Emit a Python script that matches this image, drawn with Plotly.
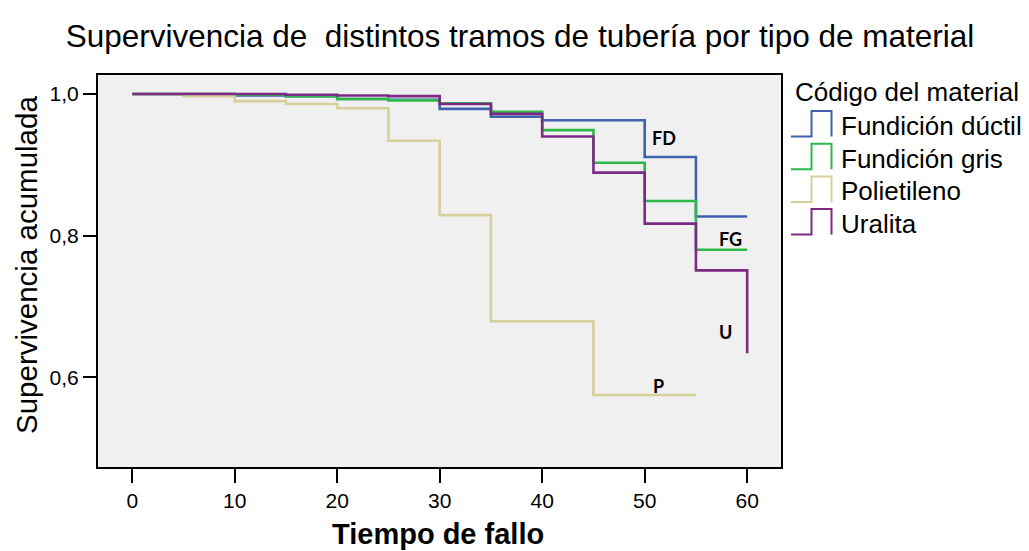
import plotly.graph_objects as go

# Tiempo de fallo (años) y supervivencia acumulada por material
tiempo = [0, 5, 10, 15, 20, 25, 30, 35, 40, 45, 50, 55, 60]
fundicion_ductil = [1.0, 1.0, 0.998, 0.997, 0.993, 0.992, 0.979, 0.968, 0.963, 0.963, 0.911, 0.827, 0.827]
fundicion_gris = [1.0, 1.0, 0.999, 0.997, 0.993, 0.991, 0.987, 0.975, 0.949, 0.903, 0.849, 0.780, 0.780]
tiempo_pe = [0, 5, 10, 15, 20, 25, 30, 35, 40, 45, 50, 55]
polietileno = [1.0, 0.997, 0.990, 0.986, 0.980, 0.934, 0.829, 0.679, 0.679, 0.575, 0.575, 0.575]
uralita = [1.0, 1.0, 1.0, 0.999, 0.998, 0.997, 0.986, 0.972, 0.940, 0.889, 0.817, 0.751, 0.634]

materiales = ["Fundición dúctil", "Fundición gris", "Polietileno", "Uralita"]
colores = ["#4060B0", "#2DB84A", "#D6D09A", "#7D2A85"]

# Etiquetas de final de curva: (texto, tiempo, supervivencia)
etiquetas = [("FD", 51.9, 0.938), ("FG", 58.4, 0.795), ("U", 57.9, 0.664), ("P", 51.3, 0.588)]

x_ticks = [0, 10, 20, 30, 40, 50, 60]
y_ticks = [0.6, 0.8, 1.0]
y_tick_text = ["0,6", "0,8", "1,0"]

W, H = 1029, 551
L, R, T, B = 98, 781, 75, 467  # plot area in pixels
FONT = "Liberation Sans, Arial"

fig = go.Figure()
series = [(tiempo, fundicion_ductil), (tiempo, fundicion_gris), (tiempo_pe, polietileno), (tiempo, uralita)]
for (xs, ys), name, col in zip(series, materiales, colores):
    fig.add_trace(go.Scatter(x=xs, y=ys, mode="lines", name=name,
                             line=dict(color=col, width=2.6, shape="hv"),
                             showlegend=False))

for txt, xv, yv in etiquetas:
    fig.add_annotation(x=xv, y=yv, text=f"<b>{txt}</b>", showarrow=False,
                       font=dict(family="Lato", size=18, color="black"))


def px(xp):
    return (xp - L) / (R - L)


def py(yp):
    return (B - yp) / (B - T)


# Legend drawn by hand with step-shaped symbols
fig.add_annotation(xref="paper", yref="paper", x=px(793), y=py(92), xanchor="left", yanchor="middle",
                   text="Código del material", showarrow=False,
                   font=dict(family=FONT, size=26, color="black"))
for i, (name, col) in enumerate(zip(materiales, colores)):
    cy = 126 + i * 32.7
    top, bot = cy - 15, cy + 10.5
    path = (f"M {px(791)},{py(bot)} L {px(811.5)},{py(bot)} L {px(811.5)},{py(top)} "
            f"L {px(831.5)},{py(top)} L {px(831.5)},{py(bot)}")
    fig.add_shape(type="path", path=path, xref="paper", yref="paper",
                  line=dict(color=col, width=2))
    fig.add_annotation(xref="paper", yref="paper", x=px(839), y=py(cy), xanchor="left", yanchor="middle",
                       text=name, showarrow=False,
                       font=dict(family=FONT, size=26, color="black"))

# Axis titles
fig.add_annotation(xref="paper", yref="paper", x=px(26), y=py(265), text="Supervivencia acumulada",
                   textangle=-90, showarrow=False, xanchor="center", yanchor="middle",
                   font=dict(family=FONT, size=29.5, color="black"))
fig.add_annotation(xref="paper", yref="paper", x=px(438), y=py(534), text="<b>Tiempo de fallo</b>",
                   showarrow=False, xanchor="center", yanchor="middle",
                   font=dict(family=FONT, size=29, color="black"))

fig.update_layout(
    width=W, height=H,
    margin=dict(l=L, r=W - R, t=T, b=H - B),
    paper_bgcolor="white",
    plot_bgcolor="#F0F0F0",
    title=dict(text="Supervivencia de \u00a0distintos tramos de tubería por tipo de material",
               x=520 / W, xanchor="center", y=1 - 36 / H, yanchor="middle",
               font=dict(family=FONT, size=31.5, color="black")),
    font=dict(family=FONT, color="black"),
)
fig.update_xaxes(range=[-3.34, 63.3], tickvals=x_ticks, ticks="outside", ticklen=14, tickwidth=2,
                 tickcolor="black", showline=True, linecolor="black", linewidth=2, mirror=True,
                 showgrid=False, zeroline=False, tickfont=dict(size=21, color="black"))
fig.update_yaxes(range=[0.4732, 1.0269], tickvals=y_ticks, ticktext=y_tick_text, ticks="outside",
                 ticklen=13, tickwidth=2, tickcolor="black", showline=True, linecolor="black",
                 linewidth=2, mirror=True, showgrid=False, zeroline=False,
                 tickfont=dict(size=21, color="black"))

fig.write_html("out.html")
